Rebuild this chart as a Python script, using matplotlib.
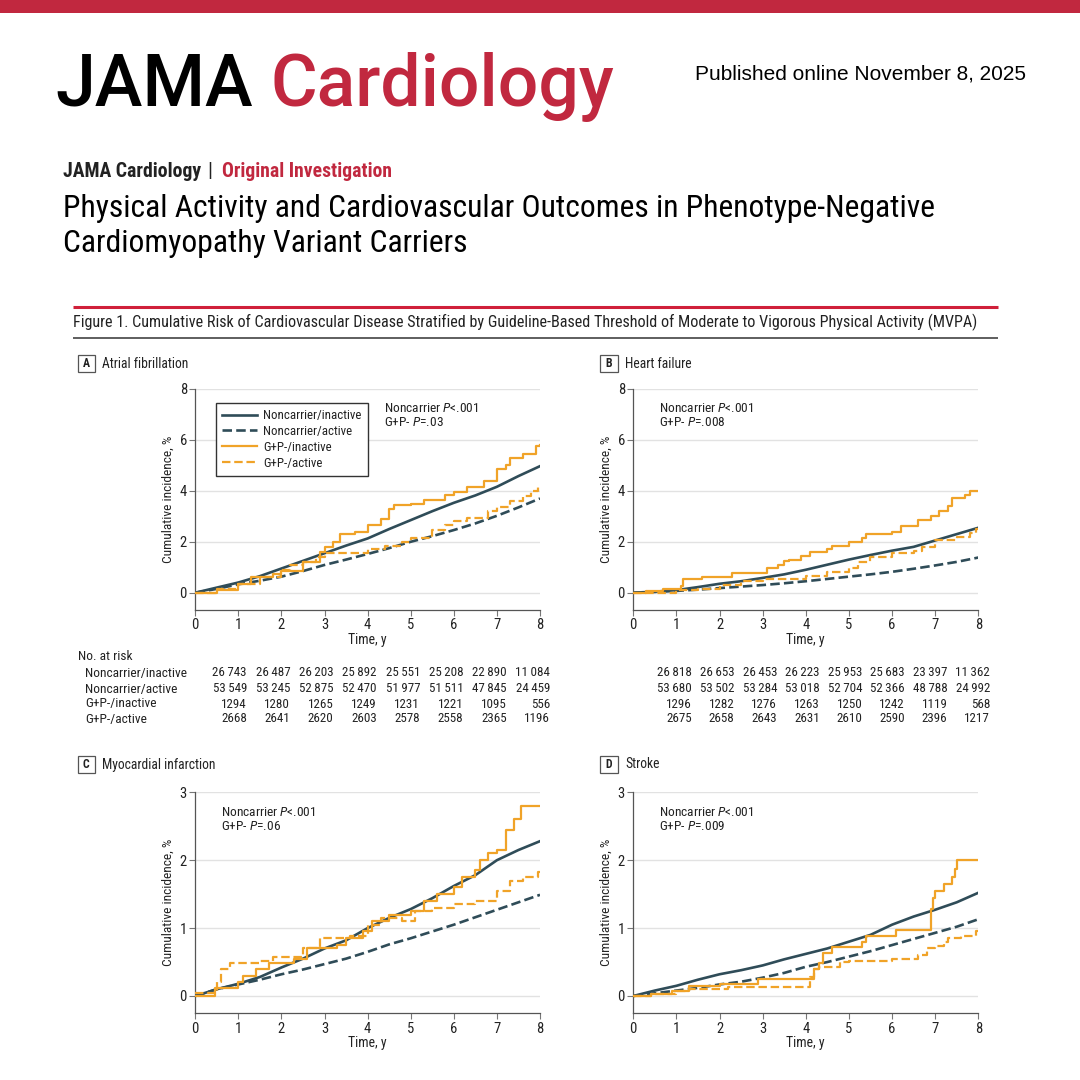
import matplotlib
matplotlib.use('Agg')
import matplotlib.pyplot as plt
from matplotlib import font_manager as fm
from matplotlib.patches import Rectangle
from matplotlib.lines import Line2D

# ---------------- DATA ----------------
time_ticks = [0, 1, 2, 3, 4, 5, 6, 7, 8]
series_names = ["Noncarrier/inactive", "Noncarrier/active", "G+P-/inactive", "G+P-/active"]

half_years = [0, 0.5, 1, 1.5, 2, 2.5, 3, 3.5, 4, 4.5, 5, 5.5, 6, 6.5, 7, 7.5, 8]

# Panel A: Atrial fibrillation
a_nc_inactive = [0, 0.2, 0.4, 0.65, 0.95, 1.25, 1.55, 1.85, 2.13, 2.5, 2.85, 3.2, 3.53, 3.82, 4.16, 4.58, 4.97]
a_nc_active = [0, 0.15, 0.33, 0.47, 0.63, 0.85, 1.09, 1.3, 1.52, 1.75, 2.0, 2.22, 2.46, 2.72, 3.02, 3.35, 3.7]
a_gp_inactive_t = [0, 0.5, 1.0, 1.3, 1.8, 2.0, 2.5, 2.9, 3.0, 3.2, 3.35, 3.7, 4.0, 4.3, 4.5, 4.6, 5.0, 5.3, 5.8, 6.0, 6.3, 6.7, 7.0, 7.2, 7.3, 7.6, 7.9, 8.0]
a_gp_inactive_y = [0, 0.1, 0.35, 0.6, 0.75, 0.85, 1.2, 1.6, 1.8, 2.0, 2.3, 2.4, 2.65, 2.9, 3.3, 3.45, 3.5, 3.65, 3.85, 3.95, 4.15, 4.4, 4.85, 5.0, 5.3, 5.45, 5.75, 5.8]
a_gp_active_t = [0, 0.5, 1.0, 1.5, 2.0, 2.2, 2.5, 2.8, 3.0, 3.3, 4.0, 4.4, 4.8, 5.0, 5.5, 5.8, 6.0, 6.3, 6.8, 7.0, 7.3, 7.6, 7.8, 7.95, 8.0]
a_gp_active_y = [0, 0.15, 0.35, 0.6, 0.9, 1.1, 1.2, 1.4, 1.55, 1.55, 1.7, 1.85, 2.0, 2.15, 2.45, 2.65, 2.8, 2.95, 3.2, 3.35, 3.6, 3.8, 4.0, 4.2, 4.2]

# Panel B: Heart failure
b_nc_inactive = [0, 0.04, 0.1, 0.22, 0.35, 0.45, 0.58, 0.72, 0.9, 1.1, 1.3, 1.48, 1.65, 1.8, 2.05, 2.3, 2.55]
b_nc_active = [0, 0.03, 0.07, 0.12, 0.18, 0.24, 0.3, 0.37, 0.45, 0.54, 0.63, 0.72, 0.82, 0.94, 1.07, 1.21, 1.38]
b_gp_inactive_t = [0, 0.3, 0.7, 1.1, 1.15, 1.6, 2.3, 3.1, 3.35, 3.5, 3.6, 3.9, 4.1, 4.5, 4.6, 5.0, 5.3, 5.4, 6.0, 6.2, 6.6, 6.9, 7.1, 7.3, 7.4, 7.7, 7.8, 8.0]
b_gp_inactive_y = [0, 0.05, 0.15, 0.25, 0.55, 0.6, 0.78, 0.95, 1.1, 1.25, 1.3, 1.45, 1.6, 1.7, 1.85, 2.0, 2.15, 2.3, 2.4, 2.6, 2.85, 3.0, 3.2, 3.4, 3.7, 3.85, 4.0, 4.0]
b_gp_active_t = [0, 1.0, 1.5, 2.0, 2.5, 3.0, 4.0, 4.5, 5.0, 5.2, 5.5, 6.0, 6.5, 6.7, 7.0, 7.5, 7.8, 7.95, 8.0]
b_gp_active_y = [0, 0.1, 0.15, 0.3, 0.45, 0.55, 0.65, 0.8, 0.95, 1.2, 1.4, 1.55, 1.65, 1.8, 2.05, 2.2, 2.35, 2.5, 2.5]

# Panel C: Myocardial infarction
c_nc_inactive = [0, 0.1, 0.18, 0.28, 0.42, 0.55, 0.7, 0.82, 1.0, 1.15, 1.28, 1.44, 1.62, 1.78, 2.0, 2.15, 2.28]
c_nc_active = [0, 0.1, 0.17, 0.24, 0.32, 0.39, 0.47, 0.55, 0.65, 0.76, 0.85, 0.95, 1.05, 1.16, 1.27, 1.38, 1.49]
c_gp_inactive_t = [0, 0.45, 1.0, 1.1, 1.4, 1.7, 2.3, 2.6, 3.3, 3.5, 3.9, 4.1, 4.5, 5.0, 5.3, 5.6, 6.0, 6.2, 6.5, 6.6, 6.8, 7.0, 7.2, 7.4, 7.55, 8.0]
c_gp_inactive_y = [0, 0.12, 0.2, 0.3, 0.4, 0.48, 0.55, 0.7, 0.75, 0.85, 0.95, 1.1, 1.2, 1.25, 1.4, 1.5, 1.6, 1.75, 1.85, 2.0, 2.1, 2.15, 2.45, 2.6, 2.8, 2.8]
c_gp_active_t = [0, 0.5, 0.6, 0.8, 1.5, 1.8, 2.5, 2.9, 3.6, 4.0, 4.3, 4.8, 5.1, 5.5, 6.0, 6.5, 7.0, 7.3, 7.6, 7.95, 8.0]
c_gp_active_y = [0.05, 0.2, 0.4, 0.48, 0.52, 0.58, 0.7, 0.85, 0.88, 1.05, 1.15, 1.1, 1.25, 1.3, 1.35, 1.4, 1.55, 1.7, 1.75, 1.82, 1.82]

# Panel D: Stroke
d_nc_inactive = [0, 0.08, 0.15, 0.24, 0.32, 0.38, 0.45, 0.54, 0.62, 0.7, 0.8, 0.9, 1.05, 1.17, 1.27, 1.38, 1.52]
d_nc_active = [0, 0.04, 0.08, 0.12, 0.17, 0.21, 0.27, 0.34, 0.43, 0.5, 0.58, 0.66, 0.75, 0.84, 0.93, 1.02, 1.13]
d_gp_inactive_t = [0, 0.4, 0.9, 1.3, 2.0, 2.9, 4.2, 4.3, 4.4, 4.6, 5.3, 5.4, 6.1, 6.9, 6.95, 7.0, 7.2, 7.4, 7.45, 7.5, 8.0]
d_gp_inactive_y = [0, 0.03, 0.07, 0.15, 0.17, 0.25, 0.4, 0.48, 0.63, 0.72, 0.8, 0.88, 0.97, 1.28, 1.45, 1.55, 1.65, 1.75, 1.87, 2.0, 2.0]
d_gp_active_t = [0, 0.4, 1.0, 1.3, 2.2, 3.95, 4.1, 4.2, 4.3, 4.8, 5.0, 6.0, 6.6, 6.8, 7.0, 7.2, 7.3, 7.6, 7.95, 8.0]
d_gp_active_y = [0, 0.03, 0.07, 0.1, 0.13, 0.13, 0.28, 0.4, 0.43, 0.5, 0.52, 0.55, 0.6, 0.7, 0.73, 0.8, 0.85, 0.88, 0.95, 0.95]

# Numbers at risk
a_risk_nc_inactive = [26743, 26487, 26203, 25892, 25551, 25208, 22890, 11084]
a_risk_nc_active = [53549, 53245, 52875, 52470, 51977, 51511, 47845, 24459]
a_risk_gp_inactive = [1294, 1280, 1265, 1249, 1231, 1221, 1095, 556]
a_risk_gp_active = [2668, 2641, 2620, 2603, 2578, 2558, 2365, 1196]
b_risk_nc_inactive = [26818, 26653, 26453, 26223, 25953, 25683, 23397, 11362]
b_risk_nc_active = [53680, 53502, 53284, 53018, 52704, 52366, 48788, 24992]
b_risk_gp_inactive = [1296, 1282, 1276, 1263, 1250, 1242, 1119, 568]
b_risk_gp_active = [2675, 2658, 2643, 2631, 2610, 2590, 2396, 1217]

# ---------------- FONTS / STYLE ----------------
names = {f.name for f in fm.fontManager.ttflist}
def pick(*cands):
    for c in cands:
        if c in names:
            return c
    return 'DejaVu Sans'
NARROW = pick('Liberation Sans Narrow', 'Roboto Condensed', 'Open Sans Condensed', 'DejaVu Sans')
SANS = pick('Liberation Sans', 'Arial', 'DejaVu Sans')
HEAD = pick('Roboto', 'Liberation Sans', 'DejaVu Sans')

plt.rcParams['font.family'] = [NARROW, 'DejaVu Sans']
plt.rcParams['mathtext.fontset'] = 'custom'
plt.rcParams['mathtext.rm'] = NARROW
plt.rcParams['mathtext.it'] = NARROW + ':italic'

DARK = '#2f4c58'
ORANGE = '#f0a328'
RED = '#c1283f'
TXT = '#222222'
FS = 9.6

W = H = 1080
fig = plt.figure(figsize=(10.8, 10.8), dpi=100)
renderer = fig.canvas.get_renderer()

def fx(x):
    return x / W

def fy(y):
    return 1 - y / H

def width_of(t):
    return t.get_window_extent(renderer).width

def fit(t, width):
    t.set_fontsize(t.get_fontsize() * width / width_of(t))
    return t

def hline(x0, x1, y, color, lw):
    fig.add_artist(Line2D([fx(x0), fx(x1)], [fy(y), fy(y)], transform=fig.transFigure,
                          color=color, lw=lw, solid_capstyle='butt'))

# ---------------- HEADER ----------------
fig.add_artist(Rectangle((0, fy(13)), 1, 13 / H, transform=fig.transFigure,
                         facecolor=RED, edgecolor='none'))
tmp = fig.text(fx(55), fy(106), "JAMA Cardiology", family=HEAD, weight='medium', fontsize=52, va='baseline')
fit(tmp, 560)
hfs = tmp.get_fontsize()
tmp.set_text("JAMA ")
gap = width_of(tmp)
tmp.remove()
fig.text(fx(55), fy(106), "JAMA", family=HEAD, weight='medium', fontsize=hfs, va='baseline', color='black')
fig.text(fx(55 + gap), fy(106), "Cardiology", family=HEAD, weight='medium', fontsize=hfs, va='baseline', color=RED)

t = fig.text(fx(695), fy(80), "Published online November 8, 2025", family=SANS, fontsize=14,
             va='baseline', color='black')
fit(t, 333)

t = fig.text(fx(63), fy(177), "JAMA Cardiology", fontsize=13, weight='bold', va='baseline', color=TXT)
fit(t, 137)
fs2 = t.get_fontsize()
fig.text(fx(210), fy(177), "|", fontsize=fs2, va='baseline', ha='center', color=TXT)
t = fig.text(fx(222), fy(177), "Original Investigation", fontsize=fs2, weight='bold', va='baseline', color=RED)
fit(t, 170)

t = fig.text(fx(63), fy(217), "Physical Activity and Cardiovascular Outcomes in Phenotype-Negative",
             fontsize=22, weight='normal', va='baseline', color='#000000')
fit(t, 873)
fs3 = t.get_fontsize()
fig.text(fx(63), fy(252), "Cardiomyopathy Variant Carriers", fontsize=fs3, weight='normal',
         va='baseline', color='#000000')

hline(73, 998, 307, '#d0203a', 2.2)
t = fig.text(fx(73), fy(327), "Figure 1. Cumulative Risk of Cardiovascular Disease Stratified by Guideline-Based "
             "Threshold of Moderate to Vigorous Physical Activity (MVPA)", fontsize=10, va='baseline', color=TXT)
fit(t, 903)
hline(73, 998, 337.5, '#333333', 1.1)

# ---------------- PANELS ----------------
def panel_axes(x0, x1, y0, y1):
    return fig.add_axes([fx(x0), fy(y1), (x1 - x0) / W, (y1 - y0) / H])

def style(ax, ylim, yticks, xlab_px):
    ax.set_xlim(0, 8)
    ax.set_ylim(*ylim)
    ax.set_xticks(time_ticks)
    ax.set_yticks(yticks)
    for s in ['top', 'right']:
        ax.spines[s].set_visible(False)
    for s in ['left', 'bottom']:
        ax.spines[s].set_color('#555555')
        ax.spines[s].set_linewidth(0.9)
    ax.grid(axis='y', color='#e2e2e2', lw=1.0)
    ax.set_axisbelow(True)
    ax.tick_params(length=4, width=0.8, color='#777777', labelsize=10.5, pad=2, labelcolor=TXT)
    ax.set_xlabel("Time, y", fontsize=FS + 0.3, color=TXT, va='center')
    ax.xaxis.set_label_coords(0.5, -xlab_px / 221)
    ax.set_ylabel("Cumulative incidence, %", fontsize=FS, color=TXT, va='center')
    ax.yaxis.set_label_coords(-27 / 344.7, 0.5)

def draw(ax, nc_in, nc_act, gp_in_t, gp_in_y, gp_act_t, gp_act_y):
    ax.plot(half_years, nc_act, color=DARK, lw=1.9, ls=(0, (3.6, 1.6)), label=series_names[1], zorder=3)
    ax.plot(half_years, nc_in, color=DARK, lw=1.9, label=series_names[0], zorder=3)
    ax.plot(gp_act_t, gp_act_y, color=ORANGE, lw=1.6, ls=(0, (3.8, 1.7)), drawstyle='steps-post',
            label=series_names[3], zorder=4)
    ax.plot(gp_in_t, gp_in_y, color=ORANGE, lw=1.6, drawstyle='steps-post', label=series_names[2], zorder=4)

def panel_title(x_box, y_box, letter, title):
    fig.add_artist(Rectangle((fx(x_box), fy(y_box + 17)), 17.5 / W, 17 / H, transform=fig.transFigure,
                             facecolor='white', edgecolor='#555555', lw=0.9))
    fig.text(fx(x_box + 8.75), fy(y_box + 8.8), letter, ha='center', va='center', fontsize=8.5,
             weight='bold', color=TXT)
    fig.text(fx(x_box + 25), fy(y_box + 8.5), title, ha='left', va='center', fontsize=FS + 0.2, color=TXT)

def pvals(x, y, p1, p2):
    fig.text(fx(x), fy(y), "Noncarrier $P$<" + p1, fontsize=FS, va='center', color=TXT)
    fig.text(fx(x), fy(y + 15), "G+P- $P$=" + p2, fontsize=FS, va='center', color=TXT)

# A
axA = panel_axes(195.3, 540, 389, 610)
draw(axA, a_nc_inactive, a_nc_active, a_gp_inactive_t, a_gp_inactive_y, a_gp_active_t, a_gp_active_y)
style(axA, (-0.68, 8), [0, 2, 4, 6, 8], 30)
panel_title(77.5, 355, "A", "Atrial fibrillation")
pvals(384, 408, ".001", ".03")
h, l = axA.get_legend_handles_labels()
hd = dict(zip(l, h))
leg = axA.legend([hd[n] for n in series_names], series_names, loc='upper left',
                 bbox_to_anchor=(fx(215.7), fy(402.7)), bbox_transform=fig.transFigure,
                 frameon=True, fancybox=False, edgecolor='#333333', framealpha=1, borderaxespad=0,
                 fontsize=9.3, handlelength=2.7, handletextpad=0.45, labelspacing=0.22, borderpad=0.5)
leg.get_frame().set_linewidth(1.0)
for tx in leg.get_texts():
    tx.set_color(TXT)

# B
axB = panel_axes(633.3, 978.3, 389, 610)
draw(axB, b_nc_inactive, b_nc_active, b_gp_inactive_t, b_gp_inactive_y, b_gp_active_t, b_gp_active_y)
style(axB, (-0.68, 8), [0, 2, 4, 6, 8], 30)
panel_title(600, 355, "B", "Heart failure")
pvals(659, 408, ".001", ".008")

# C
axC = panel_axes(195.3, 540, 792.3, 1013.3)
draw(axC, c_nc_inactive, c_nc_active, c_gp_inactive_t, c_gp_inactive_y, c_gp_active_t, c_gp_active_y)
style(axC, (-0.255, 3), [0, 1, 2, 3], 30)
panel_title(77.5, 756, "C", "Myocardial infarction")
pvals(221, 812, ".001", ".06")

# D
axD = panel_axes(633.3, 978.3, 792.3, 1013.3)
draw(axD, d_nc_inactive, d_nc_active, d_gp_inactive_t, d_gp_inactive_y, d_gp_active_t, d_gp_active_y)
style(axD, (-0.255, 3), [0, 1, 2, 3], 30)
panel_title(600, 756, "D", "Stroke")
pvals(659, 812, ".001", ".009")

# ---------------- NUMBER AT RISK ----------------
def fmt(n):
    s = str(n)
    if n >= 10000:
        s = s[:-3] + '\u2009' + s[-3:]
    return s

fig.text(fx(78), fy(657), "No. at risk", fontsize=FS, va='center', color=TXT)
row_y = [673, 689, 704, 719]
for name, yy in zip(series_names, row_y):
    fig.text(fx(85), fy(yy), name, fontsize=FS, va='center', color=TXT)

def risk_table(rows, x_first, x_last):
    step = (x_last - x_first) / 7
    for vals, yy in zip(rows, row_y):
        for i, v in enumerate(vals):
            fig.text(fx(x_first + i * step), fy(yy), fmt(v), fontsize=9.4, va='center', ha='right',
                     color=TXT, family=[NARROW, 'DejaVu Sans'])

risk_table([a_risk_nc_inactive, a_risk_nc_active, a_risk_gp_inactive, a_risk_gp_active], 247, 550)
risk_table([b_risk_nc_inactive, b_risk_nc_active, b_risk_gp_inactive, b_risk_gp_active], 692, 990)

fig.savefig('out.png', dpi=100, facecolor='white')
